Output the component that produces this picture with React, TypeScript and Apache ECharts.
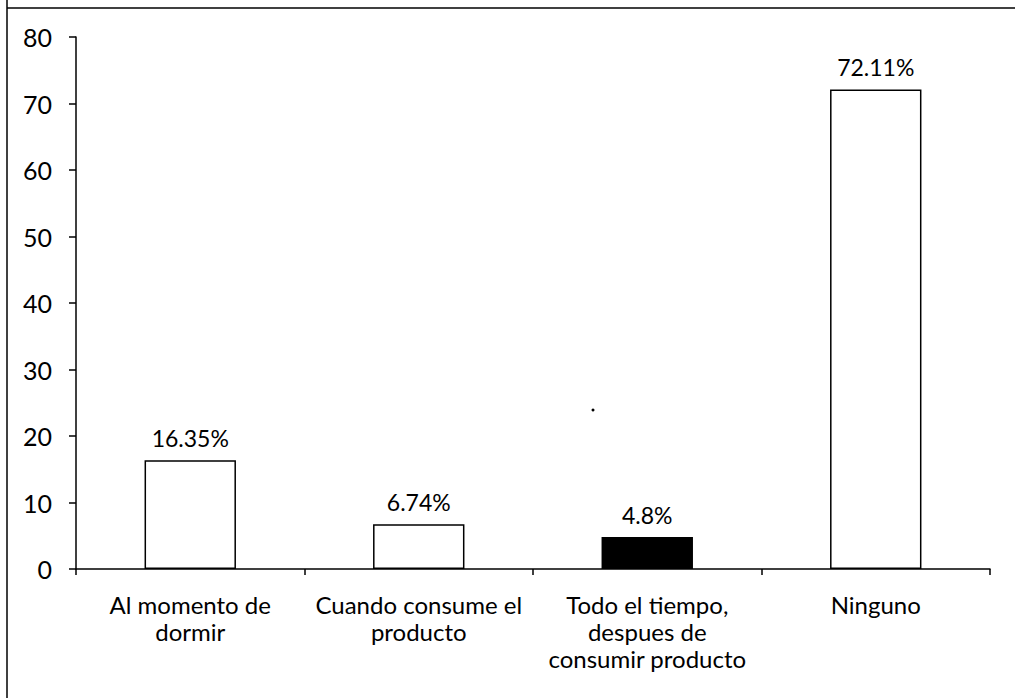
import React, { useEffect, useRef } from "react";
import * as echarts from "echarts";

const categories = [
  "Al momento de\ndormir",
  "Cuando consume el\nproducto",
  "Todo el tiempo,\ndespues de\nconsumir producto",
  "Ninguno",
];
const values = [16.35, 6.74, 4.8, 72.11];
const barColors = ["#ffffff", "#ffffff", "#000000", "#ffffff"];
const yTicks = { min: 0, max: 80, interval: 10 };

const FONT = "Lato, 'Open Sans', 'Noto Sans', sans-serif";

export default function App() {
  const ref = useRef<HTMLDivElement>(null);
  useEffect(() => {
    const chart = echarts.init(ref.current!, null, { renderer: "svg" });
    chart.setOption({
      animation: false,
      backgroundColor: "#ffffff",
      grid: { left: 76, right: 25, top: 37, bottom: 129, containLabel: false },
      xAxis: {
        type: "category",
        data: categories,
        axisLine: { show: true, lineStyle: { color: "#000", width: 1.5 } },
        axisTick: { show: true, alignWithLabel: false, length: 6, lineStyle: { color: "#000", width: 1.5 } },
        axisLabel: {
          color: "#000",
          fontSize: 24,
          fontFamily: FONT,
          lineHeight: 27,
          margin: 22,
          interval: 0,
        },
      },
      yAxis: {
        type: "value",
        min: yTicks.min,
        max: yTicks.max,
        interval: yTicks.interval,
        splitLine: { show: false },
        axisLine: { show: true, lineStyle: { color: "#000", width: 1.5 } },
        axisTick: { show: true, length: 7, lineStyle: { color: "#000", width: 1.5 } },
        axisLabel: { color: "#000", fontSize: 25, fontFamily: FONT, margin: 24 },
      },
      series: [
        {
          type: "bar",
          barWidth: "40%",
          data: values.map((v, i) => ({
            value: v,
            itemStyle: { color: barColors[i], borderColor: "#000", borderWidth: 1.5 },
          })),
          label: {
            show: true,
            position: "top",
            distance: 11,
            color: "#000",
            fontSize: 23,
            fontFamily: FONT,
            formatter: (p: any) => p.value + "%",
          },
        },
      ],
      graphic: [
        { type: "line", shape: { x1: 7, y1: 0, x2: 7, y2: 698 }, style: { stroke: "#000", lineWidth: 1.5 } },
        { type: "line", shape: { x1: 7, y1: 8, x2: 1015, y2: 8 }, style: { stroke: "#000", lineWidth: 1.5 } },
        { type: "circle", shape: { cx: 593, cy: 410, r: 1.5 }, style: { fill: "#000" } },
      ],
    });
    return () => chart.dispose();
  }, []);
  return <div ref={ref} style={{ width: 1015, height: 698, position: "absolute", left: 0, top: 0 }} />;
}
